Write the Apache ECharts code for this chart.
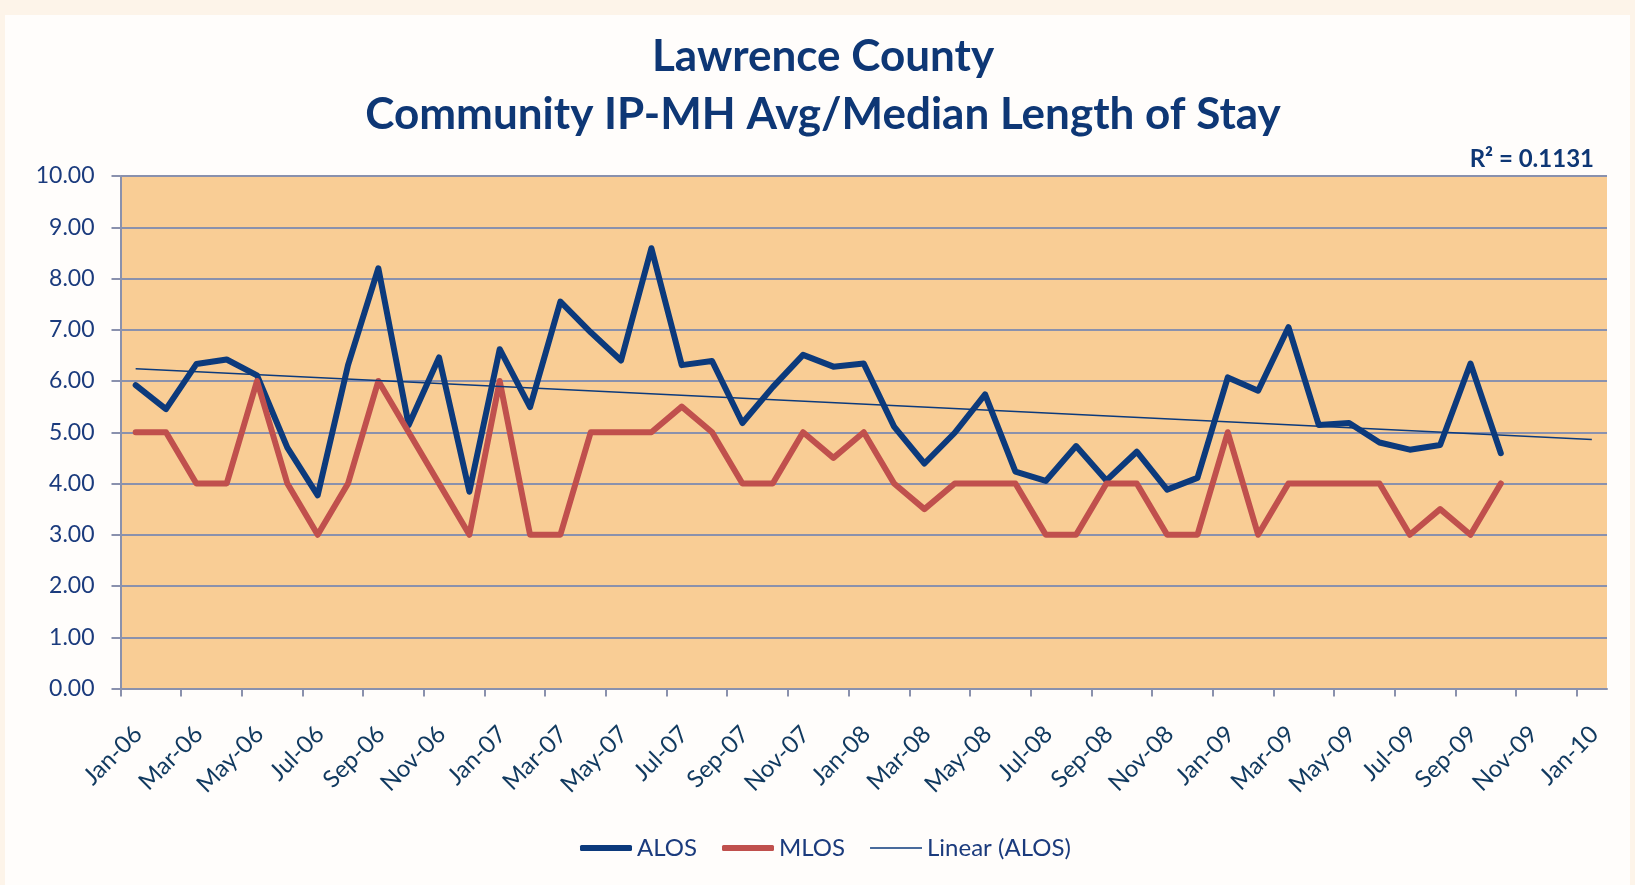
<!DOCTYPE html>
<html>
<head>
<meta charset="utf-8">
<title>Lawrence County</title>
<script src="https://cdn.jsdelivr.net/npm/echarts@6/dist/echarts.min.js"></script>
<style>
html, body { margin: 0; padding: 0; background: #fdf4e9; }
#chart { width: 1635px; height: 885px; }
</style>
</head>
<body>
<div id="chart"></div>
<script>
// tick labels, one every 2 months starting Jan-06
var tickLabels = ['Jan-06', 'Mar-06', 'May-06', 'Jul-06', 'Sep-06', 'Nov-06',
	'Jan-07', 'Mar-07', 'May-07', 'Jul-07', 'Sep-07', 'Nov-07',
	'Jan-08', 'Mar-08', 'May-08', 'Jul-08', 'Sep-08', 'Nov-08',
	'Jan-09', 'Mar-09', 'May-09', 'Jul-09', 'Sep-09', 'Nov-09', 'Jan-10'];

// monthly values, Jan-06 .. Oct-09
var alos = [5.92, 5.45, 6.33, 6.42, 6.11, 4.70, 3.77, 6.31, 8.20, 5.14,
	6.46, 3.84, 6.62, 5.49, 7.55, 6.95, 6.40, 8.59, 6.31, 6.39,
	5.18, 5.88, 6.51, 6.28, 6.34, 5.11, 4.39, 4.99, 5.74, 4.23,
	4.05, 4.73, 4.06, 4.62, 3.88, 4.11, 6.07, 5.81, 7.05, 5.14,
	5.18, 4.80, 4.66, 4.75, 6.34, 4.59];
var mlos = [5, 5, 4, 4, 6, 4, 3, 4, 6, 5,
	4, 3, 6, 3, 3, 5, 5, 5, 5.5, 5,
	4, 4, 5, 4.5, 5, 4, 3.5, 4, 4, 4,
	3, 3, 4, 4, 3, 3, 5, 3, 4, 4,
	4, 4, 3, 3.5, 3, 4];

// linear trend of ALOS, month position -> value
var trendMonths = [0.5, 48.5];
var trendValues = [6.24, 4.86];
var rSquared = '0.1131';

var navy = '#0c3a7c';
var red = '#c0504d';
var gridColor = '#8a91ad';
var font = 'Lato';

function toPoints(values) {
	var pts = [];
	for (var i = 0; i < values.length; i++) {
		pts.push([i + 0.5, values[i]]); // mid-month
	}
	return pts;
}

var tickPositions = tickLabels.map(function(l, i) { return i * 2; });
var trendData = trendMonths.map(function(m, i) { return [m, trendValues[i]]; });

var chart = echarts.init(document.getElementById('chart'));
var option = {
	backgroundColor: '#fdf4e9',
	animation: false,
	graphic: [{
		type: 'rect',
		z: -10,
		silent: true,
		shape: { x: 5, y: 15, width: 1625, height: 870 },
		style: { fill: '#fffdfb' }
	}],
	title: [{
		text: 'Lawrence County\nCommunity IP-MH Avg/Median Length of Stay',
		left: 823,
		top: 28,
		padding: 0,
		textAlign: 'center',
		textStyle: {
			fontFamily: font,
			fontSize: 44,
			fontWeight: 'bold',
			color: '#0e3775',
			lineHeight: 58
		}
	}, {
		text: 'R² = ' + rSquared,
		right: 41,
		top: 147,
		padding: 0,
		textStyle: {
			fontFamily: font,
			fontSize: 24,
			fontWeight: 'bold',
			color: '#0e3775'
		}
	}],
	legend: {
		left: 575,
		top: 831,
		itemWidth: 52,
		itemHeight: 6,
		itemGap: 25,
		symbolKeepAspect: true,
		textStyle: { fontFamily: font, fontSize: 24, color: '#1b3b7d' },
		data: [
			{ name: 'ALOS', icon: 'roundRect', itemStyle: { color: navy } },
			{ name: 'MLOS', icon: 'roundRect', itemStyle: { color: red } },
			{ name: 'Linear (ALOS)', icon: 'path://M0,0H52V1.6H0Z', itemStyle: { color: navy } }
		]
	},
	grid: {
		left: 120.5,
		right: 28,
		top: 176,
		bottom: 196.5,
		show: true,
		backgroundColor: '#f9cd95',
		borderWidth: 0
	},
	xAxis: {
		type: 'value',
		min: 0,
		max: 49,
		interval: 2,
		axisLine: { show: true, lineStyle: { color: gridColor, width: 2 } },
		axisTick: {
			show: true,
			length: 8,
			customValues: tickPositions,
			lineStyle: { color: gridColor, width: 2 }
		},
		splitLine: { show: false },
		axisLabel: {
			customValues: tickPositions,
			rotate: 45,
			margin: 24,
			verticalAlign: 'top',
			padding: [12, 0, 0, 0],
			lineHeight: 26,
			fontFamily: font,
			fontSize: 24,
			color: '#10395f',
			formatter: function(v) {
				var k = Math.round(v / 2);
				return (v % 2 === 0 && tickLabels[k]) ? tickLabels[k] : '';
			}
		}
	},
	yAxis: {
		type: 'value',
		min: 0,
		max: 10,
		interval: 1,
		axisLine: { show: true, lineStyle: { color: gridColor, width: 2 } },
		axisTick: { show: true, length: 9, lineStyle: { color: gridColor, width: 2 } },
		splitLine: { show: true, lineStyle: { color: gridColor, width: 2 } },
		axisLabel: {
			margin: 26,
			fontFamily: font,
			fontSize: 23,
			color: '#1b3b7d',
			formatter: function(v) { return v.toFixed(2); }
		}
	},
	series: [{
		name: 'ALOS',
		type: 'line',
		data: toPoints(alos),
		symbol: 'none',
		color: navy,
		lineStyle: { color: navy, width: 6, cap: 'round', join: 'round' }
	}, {
		name: 'MLOS',
		type: 'line',
		data: toPoints(mlos),
		symbol: 'none',
		color: red,
		lineStyle: { color: red, width: 6, cap: 'round', join: 'round' }
	}, {
		name: 'Linear (ALOS)',
		type: 'line',
		data: trendData,
		symbol: 'none',
		color: navy,
		lineStyle: { color: navy, width: 1.5 }
	}]
};
chart.setOption(option);
</script>
</body>
</html>
